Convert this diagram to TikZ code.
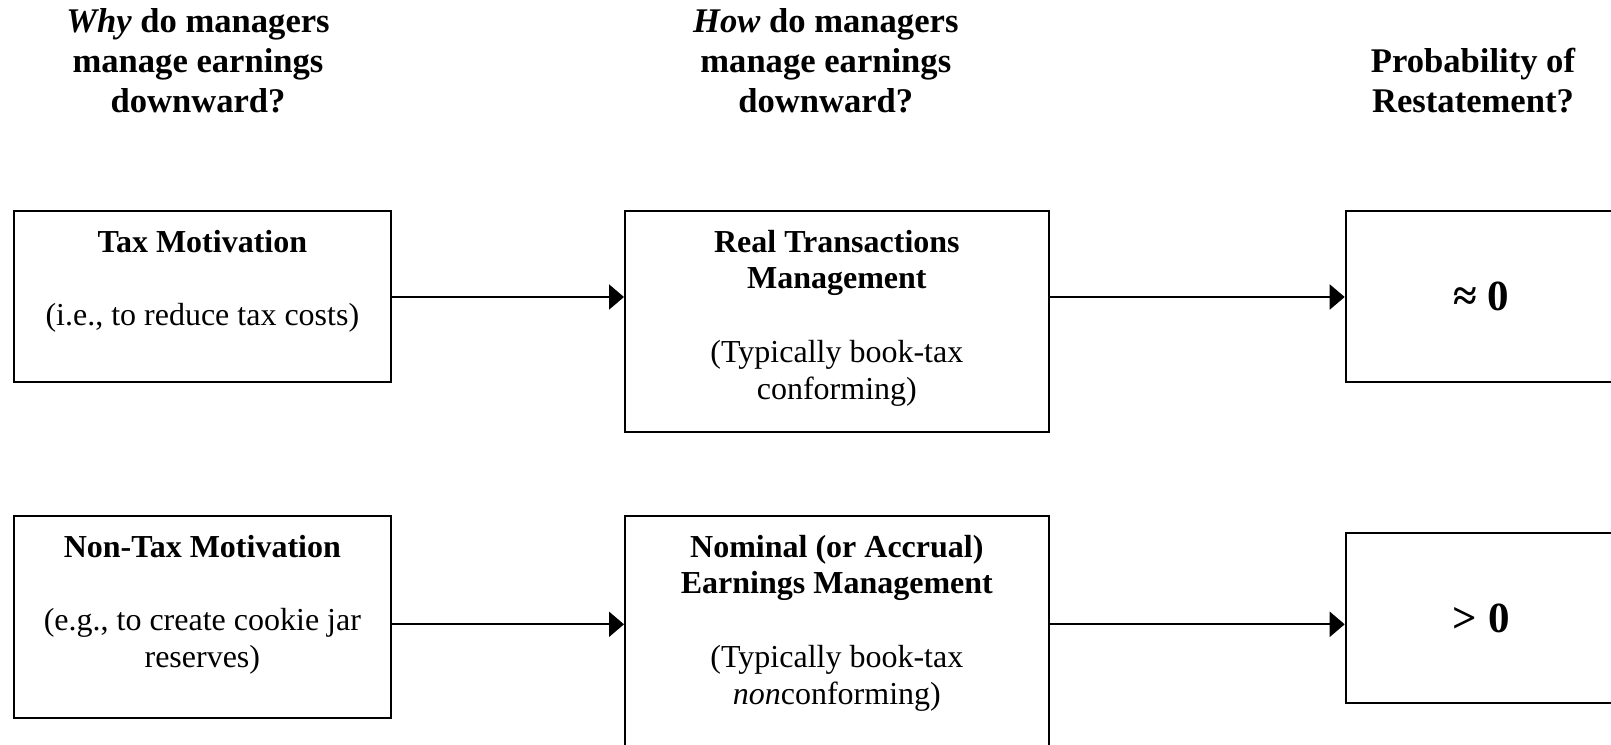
\documentclass[tikz,border=0pt]{standalone}
\usepackage{fontspec}
\setmainfont{Liberation Serif}
\usetikzlibrary{arrows.meta}
\newcommand\mystrut{\rule{0pt}{14pt}}
\begin{document}
\begin{tikzpicture}[x=0.5pt,y=-0.5pt,
  box/.style={draw,line width=1pt,inner sep=0pt},
  txt/.style={anchor=north,inner sep=0pt,align=center,font=\fontsize{16}{18.4}\selectfont},
  hdr/.style={anchor=north,inner sep=0pt,align=center,font=\fontsize{17.3}{20}\selectfont\bfseries},
  big/.style={font=\fontsize{21.5}{24}\selectfont\bfseries},
  arr/.style={line width=1pt,-{Triangle[length=7.5pt,width=12.5pt]}}]
\useasboundingbox (0,0) rectangle (1611,744);
\clip (0,0) rectangle (1611,744);
% headers
\node[hdr] (h1) at (198,3.7) {\mystrut\textit{Why} do managers\\manage earnings\\downward?};
\node[hdr] (h2) at (825.8,3.7) {\mystrut\textit{How} do managers\\manage earnings\\downward?};
\node[hdr] (h3) at (1473,44.5) {\mystrut Probability of\\Restatement?};
% boxes
\node[box,minimum width=188.35pt,minimum height=85.8pt] (tl) at (202.35,296.5) {};
\node[box,minimum width=211.85pt,minimum height=110.4pt] (tm) at (836.85,321.1) {};
\node[box,big,minimum width=135.65pt,minimum height=85.8pt] (tr) at (1481.35,296.5) {≈ 0};
\node[box,minimum width=188.35pt,minimum height=100.85pt] (bl) at (202.35,616.85) {};
\node[box,minimum width=211.85pt,minimum height=142pt] (bm) at (836.85,658) {};
\node[box,big,minimum width=135.65pt,minimum height=85pt] (br) at (1481.35,618.3) {> 0};
% box texts
\node[txt] (tlt) at (202.35,223.7) {\mystrut\textbf{Tax Motivation}\\[18.4pt](i.e., to reduce tax costs)};
\node[txt] (tmt) at (836.85,223.7) {\mystrut\textbf{Real Transactions}\\\textbf{Management}\\[18.4pt](Typically book-tax\\conforming)};
\node[txt] (blt) at (202.35,528.7) {\mystrut\textbf{Non-Tax Motivation}\\[18.4pt](e.g., to create cookie jar\\reserves)};
\node[txt] (bmt) at (836.85,528.7) {\mystrut\textbf{Nominal (or Accrual)}\\\textbf{Earnings Management}\\[18.4pt](Typically book-tax\\\textit{non}conforming)};
% connectors
\coordinate (row1) at (0,297);
\coordinate (row2) at (0,624.3);
\draw[arr] (tl.east |- row1) -- (tm.west |- row1);
\draw[arr] (tm.east |- row1) -- (tr.west |- row1);
\draw[arr] (bl.east |- row2) -- (bm.west |- row2);
\draw[arr] (bm.east |- row2) -- (br.west |- row2);
\end{tikzpicture}
\end{document}
